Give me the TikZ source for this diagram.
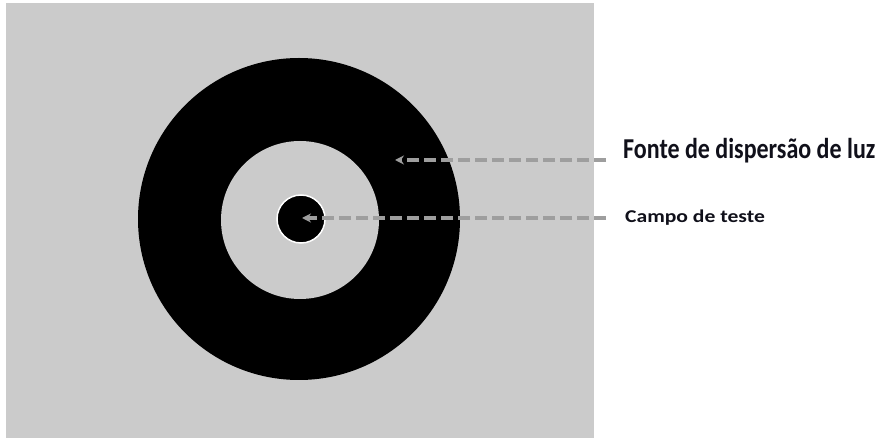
\documentclass[tikz,border=0pt]{standalone}
\usepackage{fontspec}
\setmainfont{Carlito}
\usetikzlibrary{arrows.meta}
\definecolor{bggray}{HTML}{CBCBCB}
\definecolor{dashgray}{HTML}{9E9E9E}
\definecolor{labelcol}{HTML}{10101A}
\tikzset{
  pointer/.style={draw=dashgray, line width=3.8pt, dash pattern=on 12pt off 5pt,
    -{Stealth[length=9pt,width=9pt,fill=dashgray!85!white]}},
  labeltext/.style={anchor=base west, inner sep=0pt, text=labelcol}
}
\begin{document}
\begin{tikzpicture}[x=1pt,y=-1pt]
\useasboundingbox (0,0) rectangle (876,438);
\fill[white] (0,0) rectangle (876,438);
\fill[bggray] (6,3) rectangle (594,438);
% rings
\fill[black] (299,219) circle (161);
\fill[bggray] (300,220) circle (79);
\fill[black, draw=white, line width=1.5pt] (301,219) circle (24);
% labels
\node[labeltext] (fonte) at (623,159) {\scalebox{1}[1.2]{\bfseries\fontsize{24}{28}\selectfont Fonte de dispersão de luz}};
\node[labeltext] (campo) at (625,223) {\scalebox{1.2}[1]{\bfseries\fontsize{18}{22}\selectfont Campo de teste}};
\coordinate (fontetip) at (395,160);
\coordinate (campotip) at (302,218);
\coordinate (fonteend) at (606,160);
\coordinate (campoend) at (606,218);
\draw[pointer] (fonteend) -- (fontetip);
\draw[pointer] (campoend) -- (campotip);
\end{tikzpicture}
\end{document}
